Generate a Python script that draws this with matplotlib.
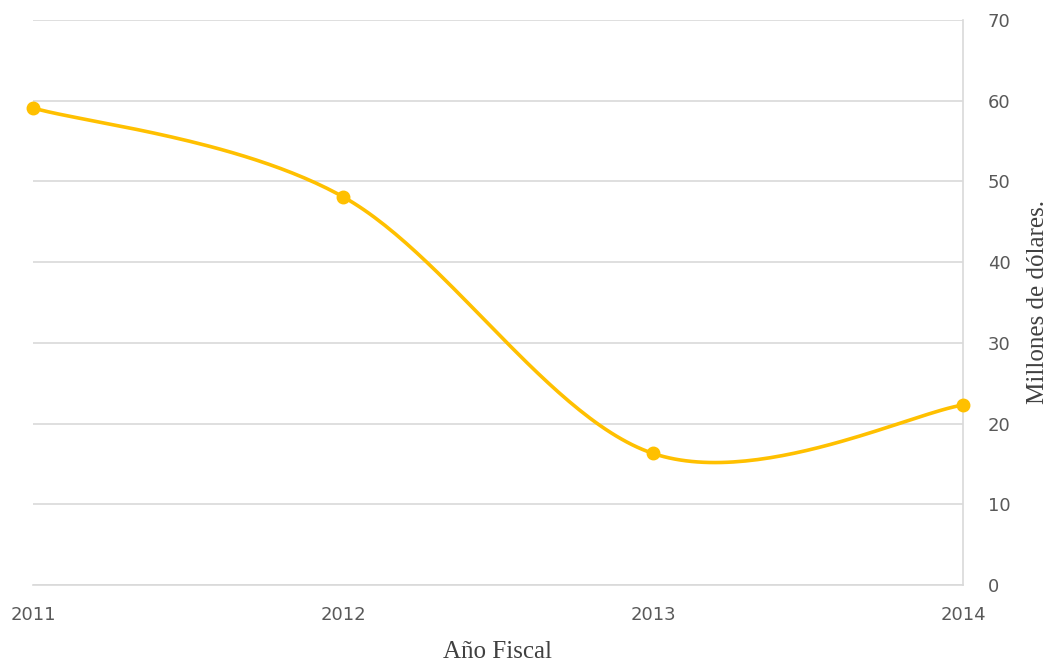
import numpy as np
import matplotlib.pyplot as plt

years = ["2011", "2012", "2013", "2014"]
valores = [59.1, 48.1, 16.3, 22.3]

GOLD = "#FFC000"
GRID = "#D9D9D9"
TXT = "#595959"


def catmull_rom(x, y, n=60):
    # suavizado tipo Excel entre puntos consecutivos
    px = np.concatenate([[x[0]], x, [x[-1]]])
    py = np.concatenate([[y[0]], y, [y[-1]]])
    xs, ys = [], []
    for i in range(1, len(px) - 2):
        t = np.linspace(0, 1, n)
        for p, out in ((px, xs), (py, ys)):
            p0, p1, p2, p3 = p[i - 1], p[i], p[i + 1], p[i + 2]
            out.append(0.5 * (2 * p1 + (-p0 + p2) * t
                              + (2 * p0 - 5 * p1 + 4 * p2 - p3) * t ** 2
                              + (-p0 + 3 * p1 - 3 * p2 + p3) * t ** 3))
    return np.concatenate(xs), np.concatenate(ys)


x = np.arange(len(years), dtype=float)
sx, sy = catmull_rom(x, np.array(valores))

fig = plt.figure(figsize=(10.51, 6.71), dpi=100)
ax = fig.add_axes([33 / 1051, 86 / 671, 930 / 1051, 565 / 671])

ax.plot(sx, sy, color=GOLD, lw=2.6, zorder=3, clip_on=False)
ax.plot(x, valores, "o", color=GOLD, ms=9, zorder=4, clip_on=False)

ax.set_xlim(0, 3)
ax.set_ylim(0, 70)
ax.set_yticks(range(0, 71, 10))
ax.set_xticks(x)
ax.set_xticklabels(years)

ax.yaxis.tick_right()
ax.yaxis.set_label_position("right")
ax.grid(axis="y", color=GRID, lw=1.2)
ax.set_axisbelow(True)

for s in ["top", "left"]:
    ax.spines[s].set_visible(False)
ax.spines["right"].set_color(GRID)
ax.spines["bottom"].set_color(GRID)
ax.spines["right"].set_linewidth(1.2)
ax.spines["bottom"].set_linewidth(1.2)

ax.tick_params(axis="both", length=0, labelsize=13, labelcolor=TXT)
ax.tick_params(axis="y", pad=18)
ax.tick_params(axis="x", pad=15)

ax.set_xlabel("Año Fiscal", family="Liberation Serif", fontsize=18,
              color="#404040", labelpad=12)
ax.set_ylabel("Millones de dólares.", family="Liberation Serif", fontsize=18,
              color="#404040", labelpad=12)

fig.savefig("out.png", dpi=100)
